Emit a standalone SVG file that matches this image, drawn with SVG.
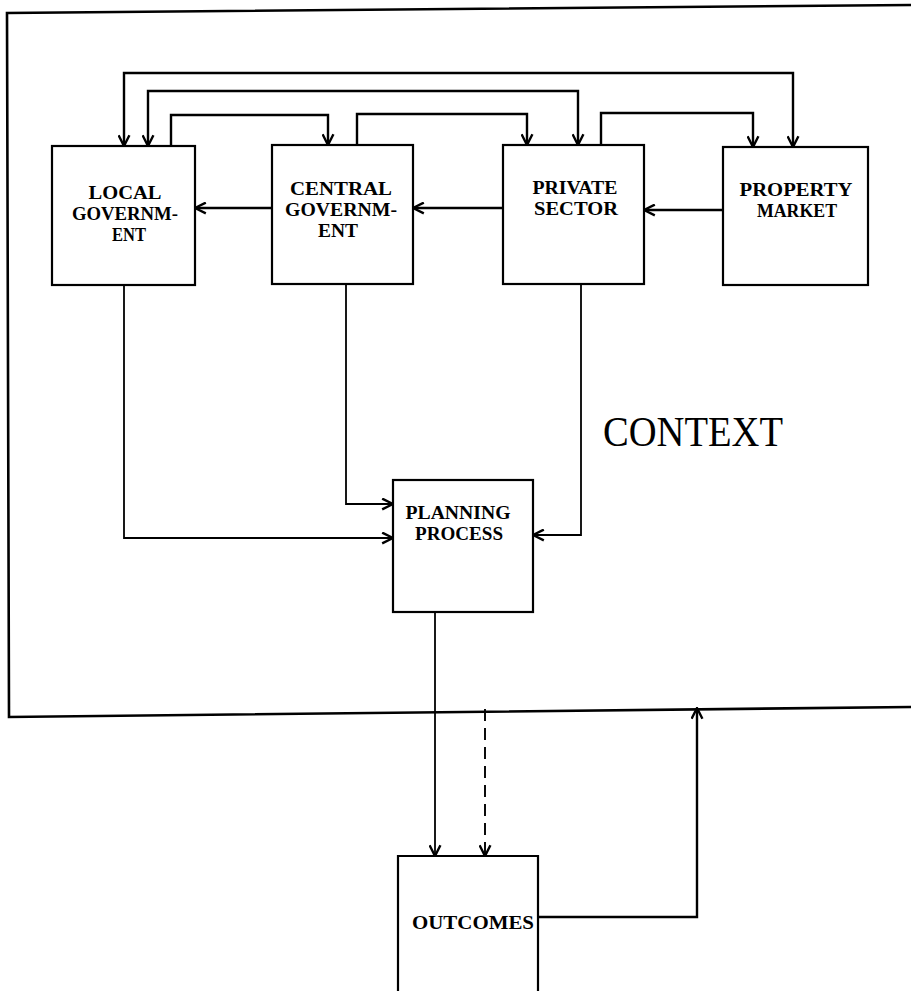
<svg xmlns="http://www.w3.org/2000/svg" width="911" height="991" viewBox="0 0 911 991">
<style>
.frame{fill:none;stroke:#000;stroke-width:2.6}
.box{fill:#fff;stroke:#000;stroke-width:2.2}
.ln{fill:none;stroke:#000;stroke-width:2.4}
.thin{fill:none;stroke:#000;stroke-width:1.8}
.dash{fill:none;stroke:#000;stroke-width:1.9;stroke-dasharray:12,7}
.lbl{font-family:"Liberation Serif",serif;font-weight:bold;font-size:19px;text-anchor:middle;fill:#000}
.ctx{font-family:"Liberation Serif",serif;font-size:42px;fill:#000}
</style>
<defs>
<marker id="ah" viewBox="0 0 12 12" refX="11" refY="6" markerWidth="13" markerHeight="13" markerUnits="userSpaceOnUse" orient="auto-start-reverse">
<path d="M1,1 L11,6 L1,11" fill="none" stroke="#000" stroke-width="2.2"/>
</marker>
</defs>
<rect width="911" height="991" fill="#fff"/>
<polyline id="context-frame" class="frame" points="911,5 7,13 9,717 911,707"/>
<text class="ctx" x="603" y="446" textLength="180" lengthAdjust="spacingAndGlyphs">CONTEXT</text>
<g id="connectors">
<path class="ln" d="M124,146 V73 H793 V147" marker-start="url(#ah)" marker-end="url(#ah)"/>
<path class="ln" d="M148,146 V91 H578 V145" marker-start="url(#ah)" marker-end="url(#ah)"/>
<path class="ln" d="M171,145 V115 H328 V145" marker-end="url(#ah)"/>
<path class="ln" d="M357,145 V114 H527 V145" marker-end="url(#ah)"/>
<path class="ln" d="M601,145 V113 H753 V147" marker-end="url(#ah)"/>
<path class="ln" d="M272,208 H195" marker-end="url(#ah)"/>
<path class="ln" d="M503,208 H413" marker-end="url(#ah)"/>
<path class="ln" d="M723,210 H644" marker-end="url(#ah)"/>
<path class="thin" d="M124,285 V538 H393" marker-end="url(#ah)"/>
<path class="thin" d="M346,284 V504 H393" marker-end="url(#ah)"/>
<path class="thin" d="M581,284 V535 H533" marker-end="url(#ah)"/>
<path class="thin" d="M435,612 V856" marker-end="url(#ah)"/>
<path class="dash" d="M485,709 V856" marker-end="url(#ah)"/>
<path class="ln" d="M538,917 H697 V708" marker-end="url(#ah)"/>
</g>
<g id="local-government">
<rect class="box" x="52" y="146" width="143" height="139"/>
<text class="lbl" x="125" y="199" textLength="73" lengthAdjust="spacingAndGlyphs">LOCAL</text>
<text class="lbl" x="125" y="220" textLength="106" lengthAdjust="spacingAndGlyphs">GOVERNM-</text>
<text class="lbl" x="129" y="241" textLength="34" lengthAdjust="spacingAndGlyphs">ENT</text>
</g>
<g id="central-government">
<rect class="box" x="272" y="145" width="141" height="139"/>
<text class="lbl" x="341" y="195" textLength="102" lengthAdjust="spacingAndGlyphs">CENTRAL</text>
<text class="lbl" x="341" y="216" textLength="112" lengthAdjust="spacingAndGlyphs">GOVERNM-</text>
<text class="lbl" x="338" y="237" textLength="40" lengthAdjust="spacingAndGlyphs">ENT</text>
</g>
<g id="private-sector">
<rect class="box" x="503" y="145" width="141" height="139"/>
<text class="lbl" x="575" y="194" textLength="85" lengthAdjust="spacingAndGlyphs">PRIVATE</text>
<text class="lbl" x="576" y="215" textLength="84" lengthAdjust="spacingAndGlyphs">SECTOR</text>
</g>
<g id="property-market">
<rect class="box" x="723" y="147" width="145" height="138"/>
<text class="lbl" x="796" y="196" textLength="113" lengthAdjust="spacingAndGlyphs">PROPERTY</text>
<text class="lbl" x="797" y="217" textLength="80" lengthAdjust="spacingAndGlyphs">MARKET</text>
</g>
<g id="planning-process">
<rect class="box" x="393" y="480" width="140" height="132"/>
<text class="lbl" x="458" y="519" textLength="105" lengthAdjust="spacingAndGlyphs">PLANNING</text>
<text class="lbl" x="459" y="540" textLength="88" lengthAdjust="spacingAndGlyphs">PROCESS</text>
</g>
<g id="outcomes">
<path class="box" d="M398,1000 V856 H538 V1000"/>
<text class="lbl" x="473" y="929" textLength="122" lengthAdjust="spacingAndGlyphs">OUTCOMES</text>
</g>
</svg>
